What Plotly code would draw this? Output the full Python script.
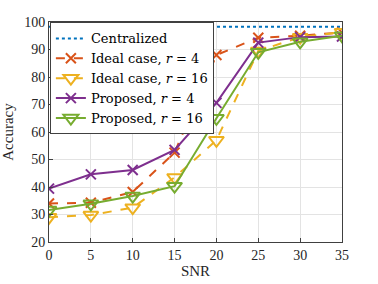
import plotly.graph_objects as go

snr = [0, 5, 10, 15, 20, 25, 30, 35]
centralized = [98.3] * 8
ideal_r4 = [34.0, 34.3, 38.2, 52.5, 88.0, 94.3, 95.0, 96.2]
ideal_r16 = [29.0, 29.8, 32.5, 43.5, 57.0, 89.5, 94.5, 96.3]
prop_r4 = [39.4, 44.6, 46.2, 53.5, 70.6, 92.5, 94.5, 94.7]
prop_r16 = [31.6, 33.9, 36.7, 40.3, 65.0, 89.0, 92.8, 95.0]

names = ["Centralized", "Ideal case, <i>r</i> = 4", "Ideal case, <i>r</i> = 16",
         "Proposed, <i>r</i> = 4", "Proposed, <i>r</i> = 16"]
x_ticks = [0, 5, 10, 15, 20, 25, 30, 35]
y_ticks = [20, 30, 40, 50, 60, 70, 80, 90, 100]

serif = "Liberation Serif, DejaVu Serif, serif"
fig = go.Figure()
fig.add_trace(go.Scatter(x=snr, y=centralized, name=names[0], mode="lines",
                         line=dict(color="#0072BD", width=2, dash="dot")))
fig.add_trace(go.Scatter(x=snr, y=ideal_r4, name=names[1], mode="lines+markers",
                         line=dict(color="#D95319", width=2, dash="dash"),
                         marker=dict(symbol="x-thin-open", size=10, line=dict(color="#D95319", width=2))))
fig.add_trace(go.Scatter(x=snr, y=ideal_r16, name=names[2], mode="lines+markers",
                         line=dict(color="#EDB120", width=2, dash="dash"),
                         marker=dict(symbol="triangle-down-open", size=13, line=dict(color="#EDB120", width=2))))
fig.add_trace(go.Scatter(x=snr, y=prop_r4, name=names[3], mode="lines+markers",
                         line=dict(color="#7E2F8E", width=2),
                         marker=dict(symbol="x-thin-open", size=10, line=dict(color="#7E2F8E", width=2))))
fig.add_trace(go.Scatter(x=snr, y=prop_r16, name=names[4], mode="lines+markers",
                         line=dict(color="#77AC30", width=2),
                         marker=dict(symbol="triangle-down-open", size=13, line=dict(color="#77AC30", width=2))))

axis_common = dict(showgrid=True, gridcolor="#e3e3e3", gridwidth=1, zeroline=False,
                   showline=True, linecolor="#404040", linewidth=1, mirror=True,
                   ticks="inside", ticklen=4, tickcolor="#404040", automargin=False,
                   tickfont=dict(family=serif, size=14, color="#262626"))
fig.update_xaxes(range=[0, 35], tickvals=x_ticks, **axis_common,
                 title=dict(text="SNR", font=dict(family=serif, size=15, color="#262626"), standoff=2))
fig.update_yaxes(range=[20, 100], tickvals=y_ticks, **axis_common,
                 title=dict(text="Accuracy", font=dict(family=serif, size=15, color="#262626"), standoff=6))

fig.update_layout(width=378, height=284, margin=dict(l=49, r=36, t=22, b=42),
                  plot_bgcolor="white", paper_bgcolor="white",
                  font=dict(family=serif, color="#262626"),
                  legend=dict(x=0.003, y=0.998, xanchor="left", yanchor="top",
                              bgcolor="white", bordercolor="#404040", borderwidth=1,
                              font=dict(family="DejaVu Serif, serif", size=13, color="#000000"),
                              itemwidth=30, tracegroupgap=0))
fig.write_html("out.html", config={"displayModeBar": False},
               post_script="document.body.style.margin='0';")
